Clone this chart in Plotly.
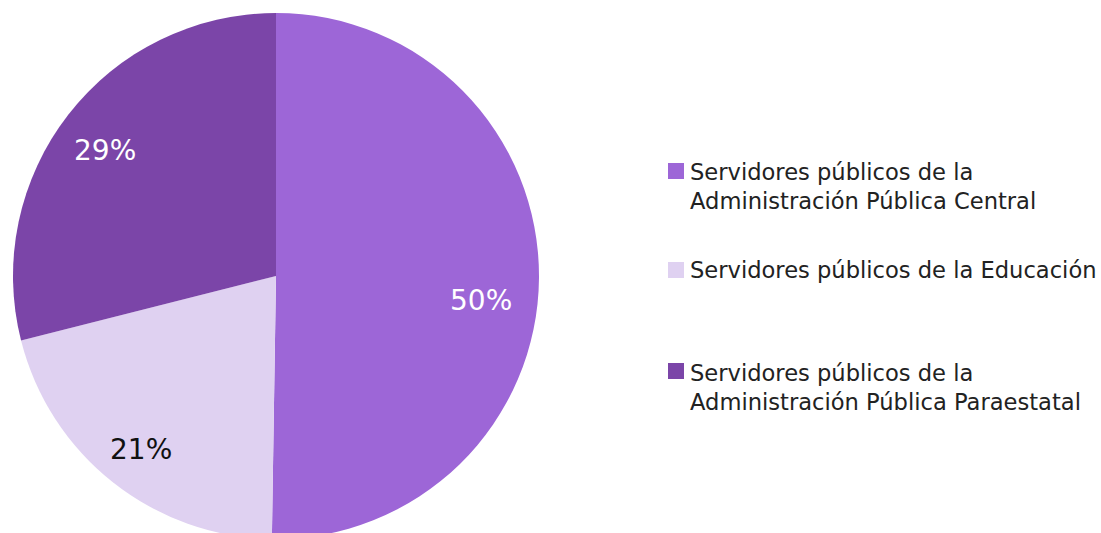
import plotly.graph_objects as go

labels = ["Servidores públicos de la<br>Administración Pública Central",
          "Servidores públicos de la Educación",
          "Servidores públicos de la<br>Administración Pública Paraestatal"]
values = [50.25, 20.8, 28.95]
colors = ["#9D66D7", "#DFD1F1", "#7B45A8"]
pct_label_colors = ["#FFFFFF", "#111111", "#FFFFFF"]

W, H = 1101, 553
FONT = "DejaVu Sans"

def px(x):
    return x / W

def py(y):
    return 1 - y / H

fig = go.Figure()
fig.add_trace(go.Pie(
    labels=labels, values=values, sort=False, direction="clockwise", rotation=0,
    marker=dict(colors=colors, line=dict(width=0)),
    textinfo="none", hoverinfo="label+percent", showlegend=False,
    domain=dict(x=[px(13), px(539)], y=[py(539), py(13)]),
))

total = sum(values)
pct_pos = [(481, 300), (141, 449), (105, 150)]
annotations = []
for v, (x, y), c in zip(values, pct_pos, pct_label_colors):
    annotations.append(dict(x=px(x), y=py(y), xref="paper", yref="paper",
                            text=f"{round(v / total * 100)}%", showarrow=False,
                            font=dict(family=FONT, size=28, color=c),
                            xanchor="center", yanchor="middle"))

leg_y = [(163, 187), (262, 270), (363, 387)]
shapes = []
for lab, c, (sq_top, ty) in zip(labels, colors, leg_y):
    shapes.append(dict(type="rect", xref="paper", yref="paper",
                       x0=px(668), x1=px(684), y0=py(sq_top + 16), y1=py(sq_top),
                       fillcolor=c, line=dict(width=0)))
    annotations.append(dict(x=px(688), y=py(ty), xref="paper", yref="paper",
                            text=lab, showarrow=False, align="left",
                            font=dict(family=FONT, size=22.6, color="#222222"),
                            xanchor="left", yanchor="middle"))

fig.update_layout(width=W, height=H, margin=dict(l=0, r=0, t=0, b=0),
                  paper_bgcolor="white", plot_bgcolor="white",
                  annotations=annotations, shapes=shapes)

fig.write_html("out.html", config={"displayModeBar": False},
               post_script="document.body.style.overflow='hidden';document.body.style.margin='0';")
